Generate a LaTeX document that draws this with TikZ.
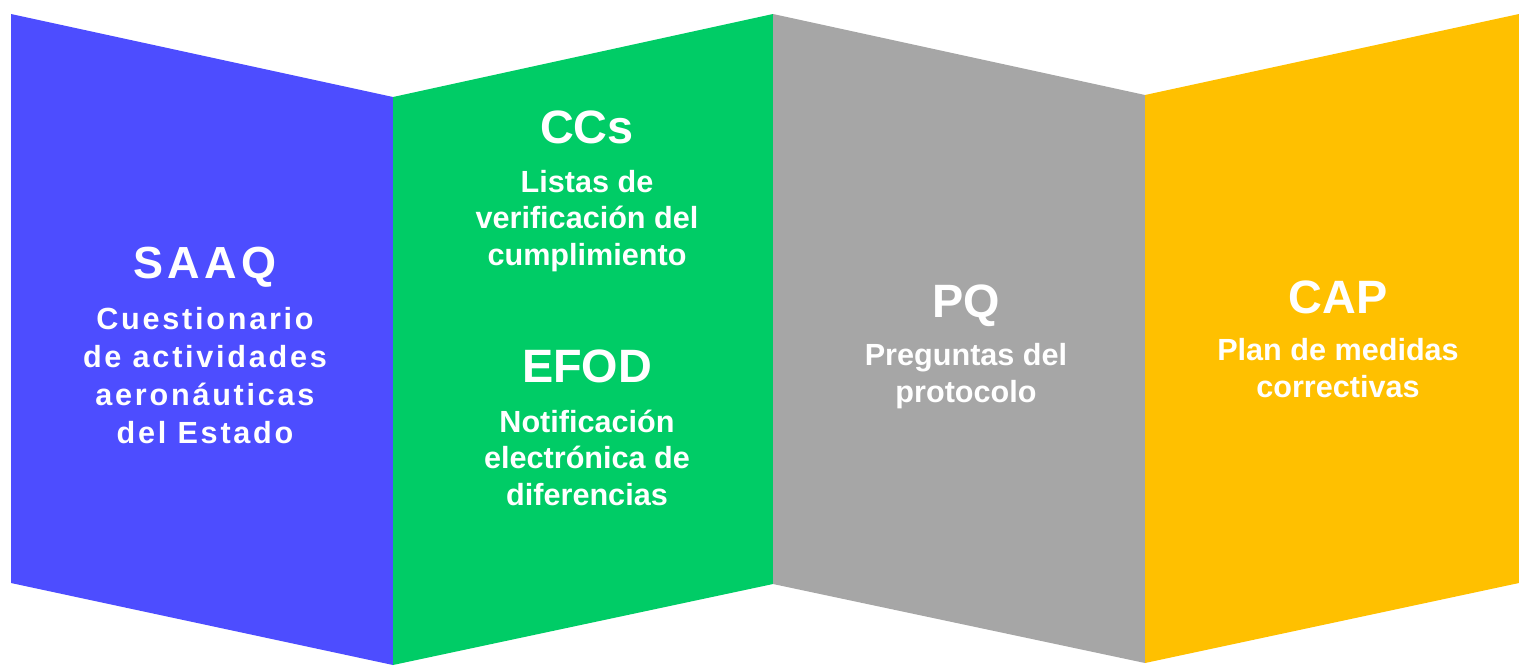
\documentclass[tikz,border=0pt]{standalone}
\usepackage{fontspec}
\setmainfont{Liberation Sans}
\newfontfamily\spacedfont[LetterSpace=9]{Liberation Sans}
\usepackage{tikz}
\usetikzlibrary{positioning}

\definecolor{saaqblue}{RGB}{77,77,255}
\definecolor{ccgreen}{RGB}{0,204,102}
\definecolor{pqgrey}{RGB}{166,166,166}
\definecolor{capyellow}{RGB}{255,192,0}

\begin{document}
\begin{tikzpicture}[
            x=0.5pt, y=-0.5pt,
            title/.style={anchor=base, inner sep=0pt, text=white, font=\bfseries\fontsize{23.4}{28}\selectfont},
            subtitle/.style={anchor=base, inner sep=0pt, text=white, align=center, font=\bfseries\fontsize{15.3}{18.2}\selectfont},
            spaced/.style={font=\spacedfont\bfseries\fontsize{15.3}{19}\selectfont}
        ]
            \useasboundingbox (0,0) rectangle (1519,665);

            % Folded panels
            \fill[saaqblue] (11,14) -- (393,97) -- (393,665) -- (11,583) -- cycle;
            \fill[ccgreen] (393,97) -- (773,14) -- (773,584) -- (393,665) -- cycle;
            \fill[pqgrey] (773,14) -- (1145,95) -- (1145,663) -- (773,584) -- cycle;
            \fill[capyellow] (1145,95) -- (1519,14) -- (1519,583) -- (1145,663) -- cycle;

            % Texts (subtitles sit on the baseline of their last line)
            \node[title, font=\spacedfont\bfseries\fontsize{22.5}{28}\selectfont] (saaq) at (205,278) {SAAQ};
            \node[subtitle, spaced] (saaqtxt) at (205,443) {Cuestionario\\de actividades\\aeronáuticas\\del Estado};

            \node[title] (ccs) at (587,143) {CCs};
            \node[subtitle] (ccstxt) at (587,265) {Listas de\\verificación del\\cumplimiento};

            \node[title] (efod) at (587,382) {EFOD};
            \node[subtitle] (efodtxt) at (587,505) {Notificación\\electrónica de\\diferencias};

            \node[title] (pq) at (966,317) {PQ};
            \node[subtitle] (pqtxt) at (966,402) {Preguntas del\\protocolo};

            \node[title] (cap) at (1338,313) {CAP};
            \node[subtitle] (captxt) at (1338,397) {Plan de medidas\\correctivas};
        \end{tikzpicture}
\end{document}
